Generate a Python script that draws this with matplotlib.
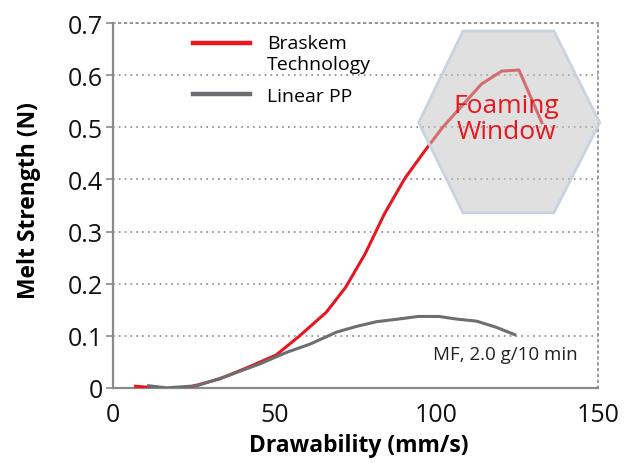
import numpy as np
import matplotlib.pyplot as plt
from matplotlib.patches import Polygon

plt.rcParams['font.family'] = ['Open Sans', 'DejaVu Sans']

# Braskem Technology (rot)
red_x = [7, 17.5, 24, 33, 42, 50.5, 57.8, 66, 72, 78, 84, 90.3, 96.5, 102, 114, 120.3, 125.6, 132.7]
red_y = [0.003, -0.002, 0.002, 0.017, 0.04, 0.063, 0.1, 0.145, 0.193, 0.257, 0.334,
         0.402, 0.455, 0.5, 0.583, 0.608, 0.61, 0.509]

# Linear PP (grau)
gray_x = [11, 16.6, 26, 35, 45.5, 53.7, 61, 69.2, 75.4, 81.6, 88.3, 94.4, 100.8, 106.3, 112.5, 118.7, 124.3]
gray_y = [0.004, 0.0, 0.004, 0.022, 0.046, 0.068, 0.084, 0.107, 0.118, 0.127, 0.132,
          0.137, 0.137, 0.132, 0.128, 0.116, 0.102]

labels = ['Braskem\nTechnology', 'Linear PP']
x_ticks = [0, 50, 100, 150]
y_ticks = [0, 0.1, 0.2, 0.3, 0.4, 0.5, 0.6, 0.7]

# Sechseck "Foaming Window" (Datenkoordinaten)
hex_x = [94.6, 108.3, 136.4, 150.6, 136.4, 108.3]
hex_y = [0.509, 0.685, 0.685, 0.509, 0.336, 0.336]

red = '#e8171f'
grey = '#6d6e71'
axcol = '#8a8a8a'

fig = plt.figure(figsize=(6.38, 4.64), dpi=100)
ax = fig.add_axes([0.177, 0.162, 0.76, 0.786])

for y in y_ticks[1:]:
    ax.axhline(y, color=axcol, lw=1.2, ls=(0, (1, 2.5)), zorder=1)

ax.plot(red_x, red_y, color=red, lw=2.2, label=labels[0], zorder=3)
ax.plot(gray_x, gray_y, color=grey, lw=2.2, label=labels[1], zorder=3)

hexagon = Polygon(list(zip(hex_x, hex_y)), closed=True,
                  facecolor=(0.76, 0.76, 0.76, 0.5), edgecolor='#c9d3df',
                  lw=2, zorder=4, clip_on=False)
ax.add_patch(hexagon)
ax.text(121.6, 0.517, 'Foaming\nWindow', color=red, fontsize=19,
        ha='center', va='center', linespacing=1.1, zorder=5)

ax.text(99, 0.064, 'MF, 2.0 g/10 min', fontsize=13.5, color='#222222',
        ha='left', va='center')

ax.set_xlim(0, 150)
ax.set_ylim(0, 0.7)
ax.set_xticks(x_ticks)
ax.set_yticks(y_ticks)
ax.set_yticklabels(['0', '0.1', '0.2', '0.3', '0.4', '0.5', '0.6', '0.7'])
ax.tick_params(axis='x', length=0, pad=10, labelsize=18, colors='#111111')
ax.tick_params(axis='y', length=5, width=1.2, color=axcol, pad=2, labelsize=18,
               labelcolor='#111111')

for s in ['left', 'bottom']:
    ax.spines[s].set_color(axcol)
    ax.spines[s].set_linewidth(1.6)
for s in ['top', 'right']:
    ax.spines[s].set_color(axcol)
    ax.spines[s].set_linewidth(1.2)
    ax.spines[s].set_linestyle((0, (1, 2.5)))

ax.set_xlabel('Drawability (mm/s)', fontsize=16.5, fontweight='bold')
ax.set_ylabel('Melt Strength (N)', fontsize=16.5, fontweight='bold')
ax.xaxis.set_label_coords(0.508, -0.125)
ax.yaxis.set_label_coords(-0.148, 0.517)

leg = ax.legend(loc='upper left', bbox_to_anchor=(0.13, 1.017), frameon=False,
                fontsize=14, handlelength=2.9, handletextpad=0.9, labelspacing=0.7)
handles = leg.get_lines()
for line in handles:
    line.set_linewidth(3.2)
# rote Linie auf Höhe der ersten Textzeile
yd = handles[0].get_ydata()
handles[0].set_ydata([v + 8 for v in yd])

fig.savefig('out.png', dpi=100)
